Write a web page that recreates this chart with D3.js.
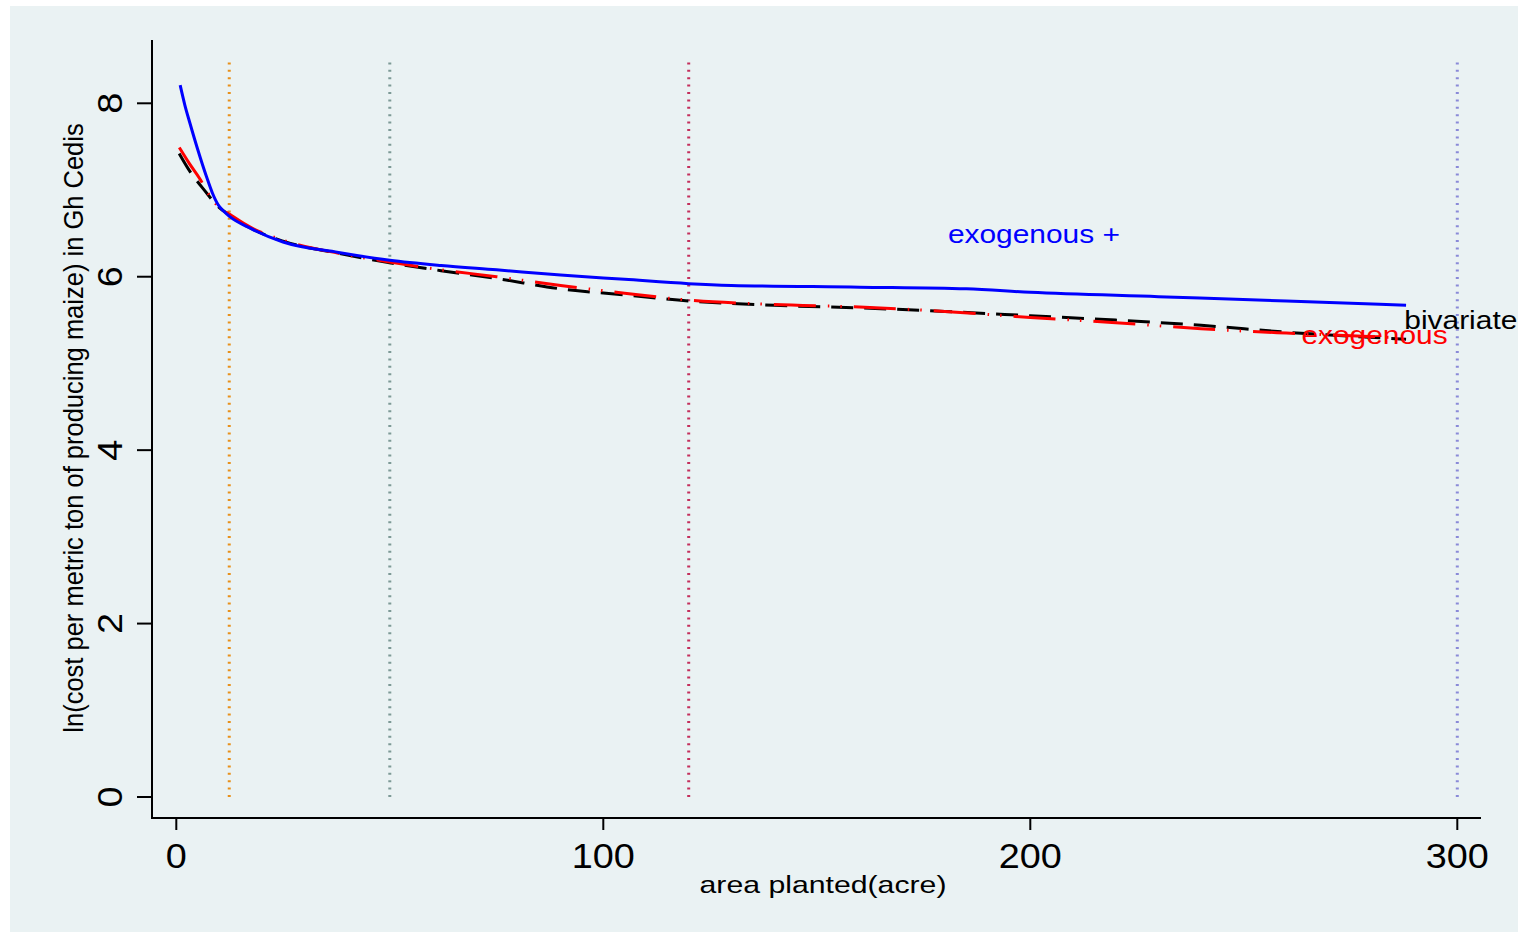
<!DOCTYPE html>
<html>
<head>
<meta charset="utf-8">
<script src="https://cdn.jsdelivr.net/npm/d3@7"></script>
<style>
  body { margin: 0; background: #ffffff; }
  svg text { font-family: "Liberation Sans", Arial, Helvetica, sans-serif; }
</style>
</head>
<body>
<svg id="mainChart" width="1518" height="932"></svg>
<script>
// values (acre, ln cost)
var bivariate = [
  [0.7, 7.42], [3, 7.23], [6.7, 6.99], [10, 6.80], [12.5, 6.71], [17, 6.57],
  [25, 6.41], [38, 6.27], [50, 6.16], [62, 6.07], [75, 5.98], [90, 5.86],
  [105, 5.79], [120, 5.72], [140, 5.67], [160, 5.64], [180, 5.60], [200, 5.55],
  [220, 5.50], [240, 5.44], [260, 5.36], [288, 5.28]
];
var exogenous = [
  [0.7, 7.49], [3, 7.31], [5.5, 7.13], [8, 6.92], [10, 6.80], [12.5, 6.72],
  [17, 6.58], [25, 6.42], [38, 6.27], [50, 6.17], [62, 6.08], [75, 6.00],
  [90, 5.90], [105, 5.81], [120, 5.73], [140, 5.68], [160, 5.65], [180, 5.60],
  [200, 5.53], [220, 5.47], [240, 5.40], [260, 5.35], [285, 5.30]
];
var exogenousPlus = [
  [0.9, 8.21], [2, 7.98], [3.2, 7.77], [5, 7.47], [7.1, 7.15], [8.5, 6.96],
  [9.8, 6.83], [11, 6.76], [12.6, 6.69], [17.3, 6.56], [25, 6.40], [38, 6.28],
  [50, 6.19], [62, 6.13], [75, 6.08], [90, 6.02], [105, 5.97], [120, 5.92],
  [130, 5.90], [160, 5.88], [185, 5.86], [200, 5.82], [230, 5.77], [260, 5.72],
  [288, 5.67]
];
var xLines = [12.4, 50, 120, 300];
var xLineColors = ["#e8901a", "#7d9a96", "#c42f5c", "#8a8ad8"];
var xTicks = [0, 100, 200, 300];
var yTicks = [0, 2, 4, 6, 8];
var curveLabels = [
  { text: "exogenous +", x: 180.7, y: 6.39, color: "#0000ff" },
  { text: "bivariate", x: 287.6, y: 5.396, color: "#000000" },
  { text: "exogenous", x: 263.5, y: 5.22, color: "#ff0000" }
];

var svg = d3.select("#mainChart");

svg.append("rect")
  .attr("x", 10).attr("y", 6)
  .attr("width", 1508).attr("height", 926)
  .attr("fill", "#eaf2f3");

var x = d3.scaleLinear().domain([0, 300]).range([176.3, 1457.3]);
var y = d3.scaleLinear().domain([0, 8]).range([797, 103.3]);

// wider-than-Arial text, as in the Stata export
function addText(g, str, px, py, size, sx, rot, anchor, color) {
  return g.append("text")
    .attr("transform", "translate(" + px + "," + py + ") rotate(" + rot + ") scale(" + sx + ",1)")
    .attr("text-anchor", anchor)
    .attr("font-size", size)
    .attr("fill", color || "#000")
    .text(str);
}

// reference lines
svg.append("g").selectAll("line")
  .data(xLines)
  .enter()
  .append("line")
  .attr("x1", function(d) { return x(d); })
  .attr("x2", function(d) { return x(d); })
  .attr("y1", y(0))
  .attr("y2", y(8.5))
  .attr("stroke", function(d, i) { return xLineColors[i]; })
  .attr("stroke-width", 3)
  .attr("stroke-dasharray", "2,5.4");

// axes
var axes = svg.append("g");
axes.append("line")
  .attr("x1", 152).attr("x2", 152).attr("y1", 40).attr("y2", 818)
  .attr("stroke", "#000").attr("stroke-width", 2);
axes.append("line")
  .attr("x1", 151).attr("x2", 1481).attr("y1", 818).attr("y2", 818)
  .attr("stroke", "#000").attr("stroke-width", 2);

yTicks.forEach(function(t) {
  axes.append("line")
    .attr("x1", 137).attr("x2", 152).attr("y1", y(t)).attr("y2", y(t))
    .attr("stroke", "#000").attr("stroke-width", 2);
  addText(axes, t, 122, y(t), 35, 1.08, -90, "middle");
});
xTicks.forEach(function(t) {
  axes.append("line")
    .attr("x1", x(t)).attr("x2", x(t)).attr("y1", 818).attr("y2", 830)
    .attr("stroke", "#000").attr("stroke-width", 2);
  addText(axes, t, x(t), 868, 35, 1.08, 0, "middle");
});

addText(axes, "area planted(acre)", 823, 893, 24, 1.26, 0, "middle");
addText(axes, "ln(cost per metric ton of producing maize) in Gh Cedis", 83, 428, 27, 0.945, -90, "middle");

// curves
var line = d3.line()
  .x(function(d) { return x(d[0]); })
  .y(function(d) { return y(d[1]); })
  .curve(d3.curveMonotoneX);

var curves = svg.append("g").attr("fill", "none").attr("stroke-width", 3);
curves.append("path")
  .attr("d", line(bivariate))
  .attr("stroke", "#000")
  .attr("stroke-dasharray", "22,11");
curves.append("path")
  .attr("d", line(exogenous))
  .attr("stroke", "#ff0000")
  .attr("stroke-dasharray", "42,12,1.5,11,1.5,12");
curves.append("path")
  .attr("d", line(exogenousPlus))
  .attr("stroke", "#0000ff");

// labels at curve ends
var labels = svg.append("g");
curveLabels.forEach(function(l) {
  addText(labels, l.text, x(l.x), y(l.y), 26, 1.15, 0, "start", l.color);
});
</script>
</body>
</html>
